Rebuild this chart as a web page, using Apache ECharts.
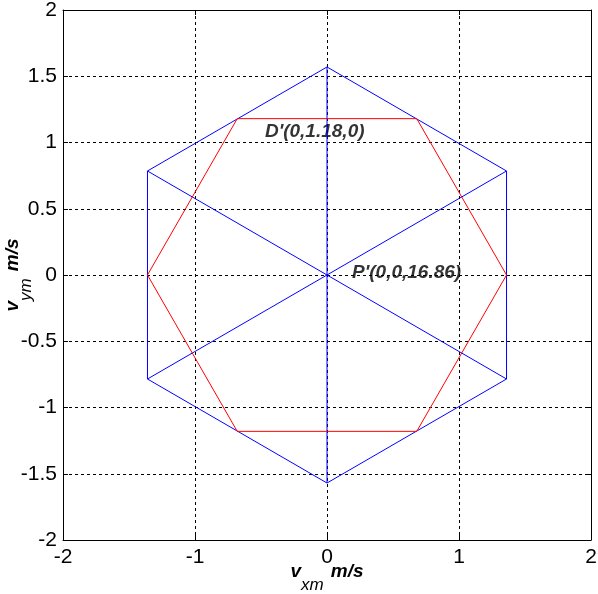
<!DOCTYPE html>
<html>
<head>
<meta charset="utf-8">
<script src="https://cdn.jsdelivr.net/npm/echarts@6/dist/echarts.min.js"></script>
<style>
  html, body { margin: 0; padding: 0; background: #fff; }
  #chart { width: 598px; height: 594px; }
</style>
</head>
<body>
<div id="chart"></div>
<script>
// outer hexagon (blue) and the three lines through the centre
const blueHex = [[0, 1.57], [1.36, 0.785], [1.36, -0.785], [0, -1.57], [-1.36, -0.785], [-1.36, 0.785], [0, 1.57]];
const blueSpokes = [
    [[0, 1.57], [0, -1.57]],
    [[-1.36, 0.785], [1.36, -0.785]],
    [[-1.36, -0.785], [1.36, 0.785]]
];
// inner hexagon (red)
const redHex = [[-0.68, 1.18], [0.68, 1.18], [1.36, 0], [0.68, -1.18], [-0.68, -1.18], [-1.36, 0], [-0.68, 1.18]];
// point labels
const notes = [
    { name: "D'(0,1.18,0)", value: [-0.47, 1.08] },
    { name: "P'(0,0,16.86)", value: [0.19, 0.015] }
];
const xTicks = [-2, -1, 0, 1, 2];
const yTicks = [-2, -1.5, -1, -0.5, 0, 0.5, 1, 1.5, 2];

const font = "'Liberation Sans', Arial, sans-serif";
const chart = echarts.init(document.getElementById("chart"));

const gridLine = { show: true, lineStyle: { color: "#000", type: [3, 3], width: 1 } };
const axisLine = { show: true, onZero: false, lineStyle: { color: "#000", width: 1 } };
const tick = { show: true, inside: true, length: 5, lineStyle: { color: "#000" } };

const nameRich = {
    v: { fontSize: 19, fontWeight: "bold", fontStyle: "italic", fontFamily: font, color: "#000", lineHeight: 20, verticalAlign: "top" },
    s: { fontSize: 17, fontStyle: "italic", fontFamily: font, color: "#000", lineHeight: 46 },
    u: { fontSize: 19, fontWeight: "bold", fontStyle: "italic", fontFamily: font, color: "#000", lineHeight: 20, verticalAlign: "top",
         padding: [0, 0, 0, 7] }
};

const lineSeries = (data, color) => ({
    type: "line",
    data: data,
    symbol: "none",
    silent: true,
    animation: false,
    lineStyle: { color: color, width: 1 }
});

const option = {
    animation: false,
    grid: { left: 63, right: 7, top: 10, bottom: 54, outerBoundsMode: "none", containLabel: false },
    xAxis: [{
        type: "value", min: -2, max: 2, interval: 1,
        axisLine: axisLine, axisTick: tick, splitLine: gridLine,
        axisLabel: { color: "#000", fontSize: 21, fontFamily: font, margin: 7,
            formatter: v => xTicks.includes(v) ? String(v) : "" },
        name: "{v|v}{s|xm}{u|m/s}",
        nameLocation: "middle", nameGap: 22, nameMoveOverlap: false,
        nameTextStyle: { rich: nameRich }
    }, {
        type: "value", min: -2, max: 2, interval: 1, position: "top",
        axisLine: axisLine, axisTick: tick, axisLabel: { show: false }, splitLine: { show: false }
    }],
    yAxis: [{
        type: "value", min: -2, max: 2, interval: 0.5,
        axisLine: axisLine, axisTick: tick, splitLine: gridLine,
        axisLabel: { color: "#000", fontSize: 21, fontFamily: font, margin: 6,
            formatter: v => yTicks.includes(v) ? String(v) : "" },
        name: "{v|v}{s|ym}{u|m/s}",
        nameLocation: "middle", nameGap: 14, nameMoveOverlap: false,
        nameTextStyle: { rich: nameRich }
    }, {
        type: "value", min: -2, max: 2, interval: 0.5, position: "right",
        axisLine: axisLine, axisTick: tick, axisLabel: { show: false }, splitLine: { show: false }
    }],
    series: [
        lineSeries(blueHex, "#0000ff"),
        ...blueSpokes.map(s => lineSeries(s, "#0000ff")),
        lineSeries(redHex, "#ff0000"),
        {
            type: "scatter",
            data: notes,
            symbolSize: 0,
            silent: true,
            label: {
                show: true, position: "right", distance: 0,
                formatter: p => p.name,
                color: "#000", fontSize: 19, fontWeight: "bold", fontStyle: "italic", fontFamily: font
            }
        }
    ]
};

chart.setOption(option);
</script>
</body>
</html>
